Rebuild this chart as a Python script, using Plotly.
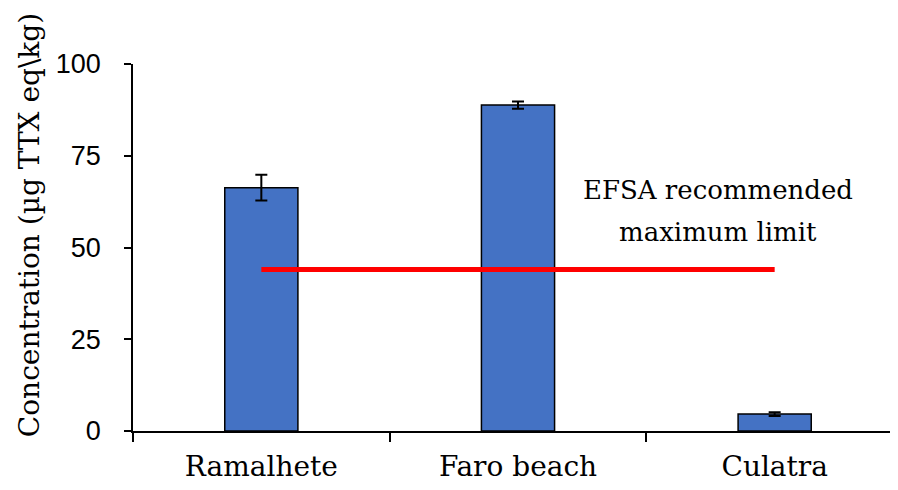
import plotly.graph_objects as go

sites = ["Ramalhete", "Faro beach", "Culatra"]
concentration = [66.3, 88.8, 4.6]
error = [3.5, 1.0, 0.5]
efsa_limit = 44
y_ticks = [0, 25, 50, 75, 100]
annotation_lines = ["EFSA recommended", "maximum limit"]
y_title = "Concentration (µg TTX eq\\kg)"

serif = "DejaVu Serif"
sans = "Liberation Sans"

fig = go.Figure()
fig.add_trace(go.Bar(
    x=sites, y=concentration,
    marker=dict(color="#4472C4", line=dict(color="black", width=1.5)),
    width=0.285,
    error_y=dict(type="data", array=error, visible=True, color="black", thickness=2, width=6),
    showlegend=False,
))
fig.add_trace(go.Scatter(
    x=[sites[0], sites[-1]], y=[efsa_limit, efsa_limit],
    mode="lines", line=dict(color="#FF0000", width=5), showlegend=False,
))
for line_text, yv in zip(annotation_lines, [65.6, 54.3]):
    fig.add_annotation(
        x=1.78, y=yv, xref="x", yref="y", text=line_text, showarrow=False,
        font=dict(family=serif, size=26, color="black"), align="center",
    )
fig.add_annotation(
    x=-0.135, y=0.561, xref="paper", yref="paper", text=y_title,
    xanchor="center", yanchor="middle",
    textangle=-90, showarrow=False, font=dict(family=serif, size=28, color="black"),
)
fig.update_layout(
    width=898, height=482,
    margin=dict(l=125, r=3, t=56, b=59),
    plot_bgcolor="white", paper_bgcolor="white",
    bargap=0.7,
    xaxis=dict(
        type="category", range=[-0.5, 2.5], automargin=False,
        showline=True, linecolor="black", linewidth=1.5,
        ticks="outside", tickson="boundaries", ticklen=9, tickcolor="black", tickwidth=1.5,
        tickfont=dict(family=serif, size=28, color="black"),
        ticklabelstandoff=10,
        showgrid=False,
    ),
    yaxis=dict(
        range=[0, 100], tickvals=y_ticks, automargin=False,
        showline=True, linecolor="black", linewidth=1.5,
        ticks="outside", ticklen=7, tickcolor="black", tickwidth=1.5,
        tickfont=dict(family=sans, size=27, color="black"),
        ticklabelstandoff=18,
        showgrid=False, zeroline=False,
    ),
)
fig.write_html("out.html")
